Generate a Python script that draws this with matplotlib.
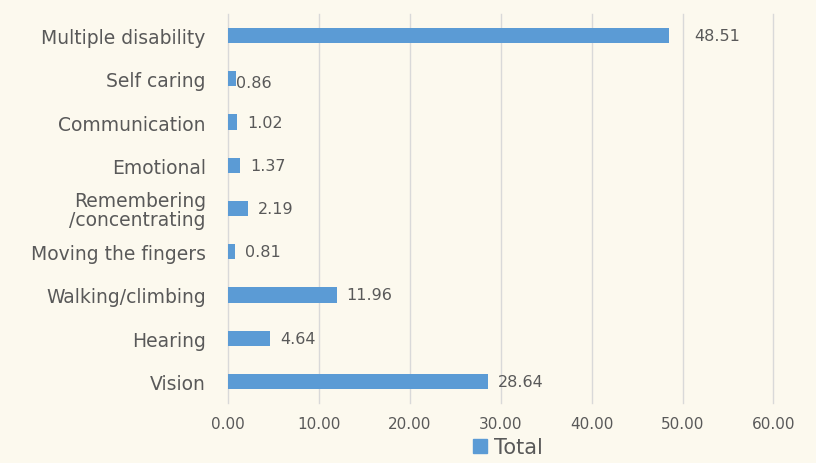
import matplotlib.pyplot as plt
from matplotlib.patches import Patch

categories = ["Vision", "Hearing", "Walking/climbing", "Moving the fingers",
              "Remembering\n/concentrating", "Emotional", "Communication",
              "Self caring", "Multiple disability"]
totals = [28.64, 4.64, 11.96, 0.81, 2.19, 1.37, 1.02, 0.86, 48.51]
xticks = [0, 10, 20, 30, 40, 50, 60]

bg = "#fcf9ee"
blue = "#5b9bd5"
grey = "#595959"

plt.rcParams["font.family"] = ["DejaVu Sans"]

fig = plt.figure(figsize=(8.16, 4.64), dpi=100, facecolor=bg)
ax = fig.add_axes([0.2794, 0.1293, 0.6685, 0.8384], facecolor=bg)

y = list(range(len(categories)))
ax.barh(y, totals, height=0.35, color=blue, zorder=3)

for i, v in enumerate(totals):
    dx, dy = 10, 0
    if v == 48.51:
        dx = 25
    if v == 0.86:
        dx, dy = 0, -4
    ax.annotate(f"{v:.2f}", (v, i), xytext=(dx, dy), textcoords="offset pixels",
                ha="left", va="center", fontsize=11.5, color=grey)

ax.set_xlim(0, 60)
ax.set_ylim(-0.5, len(categories) - 0.5)
ax.set_xticks(xticks)
ax.set_xticklabels([f"{t:.2f}" for t in xticks])
ax.set_yticks(y)
ax.set_yticklabels(categories, linespacing=1.0)
ax.tick_params(axis="x", length=0, pad=9, labelsize=11, labelcolor=grey)
ax.tick_params(axis="y", length=0, pad=16, labelsize=13.5, labelcolor=grey)
ax.grid(axis="x", color="#d9d9d9", linewidth=1, zorder=0)
for line in ax.get_xgridlines():
    line.set_clip_on(False)
for s in ax.spines.values():
    s.set_visible(False)

fig.legend(handles=[Patch(color=blue, label="Total")], loc="center",
           bbox_to_anchor=(0.622, 0.034), frameon=False, fontsize=15,
           handlelength=0.7, handleheight=0.7, handletextpad=0.3,
           labelcolor=grey)

fig.savefig("out.png", dpi=100, facecolor=bg)
